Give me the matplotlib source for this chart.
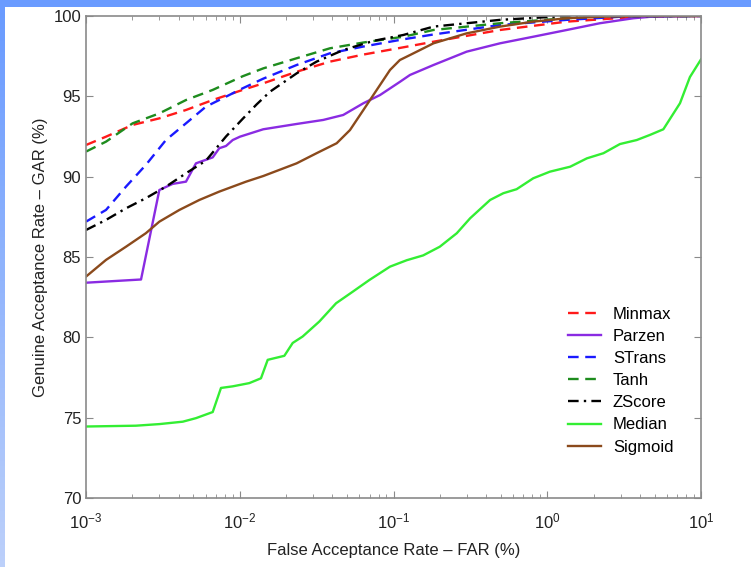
import numpy as np
import matplotlib
matplotlib.use("Agg")
import matplotlib.pyplot as plt
from matplotlib.patches import Rectangle
from matplotlib.ticker import LogLocator, NullFormatter

plt.rcParams['font.family'] = ['Liberation Sans', 'DejaVu Sans']
plt.rcParams['mathtext.fontset'] = 'custom'
plt.rcParams['mathtext.rm'] = 'Liberation Sans'
plt.rcParams['mathtext.default'] = 'regular'

# ROC curves, FAR (%) vs GAR (%)
minmax_far = [0.001, 0.00135, 0.00201, 0.0030, 0.00447, 0.00667, 0.01045, 0.01422, 0.02344,
              0.0386, 0.0637, 0.122, 0.182, 0.493, 1.34, 2.83, 4.66, 10]
minmax_gar = [91.97, 92.49, 93.22, 93.63, 94.15, 94.77, 95.4, 95.81, 96.53,
              97.16, 97.6, 98.09, 98.4, 99.13, 99.65, 99.86, 100, 100]

parzen_far = [0.001, 0.00228, 0.0030, 0.00366, 0.00447, 0.00519, 0.00667, 0.00736, 0.00814,
              0.0090, 0.01004, 0.01422, 0.02344, 0.0349, 0.0471, 0.0637, 0.0817, 0.110,
              0.128, 0.182, 0.299, 0.493, 0.811, 1.34, 2.20, 3.63, 4.66, 10]
parzen_gar = [83.4, 83.6, 89.17, 89.55, 89.69, 90.83, 91.2, 91.77, 91.91,
              92.28, 92.49, 92.95, 93.28, 93.53, 93.84, 94.57, 95.08, 95.9,
              96.33, 96.95, 97.78, 98.3, 98.71, 99.13, 99.55, 99.86, 99.95, 100]

strans_far = [0.001, 0.00135, 0.00182, 0.00245, 0.00331, 0.00447, 0.00603, 0.00814, 0.01045,
              0.01422, 0.02344, 0.0386, 0.0637, 0.116, 0.182, 0.493, 1.34, 3.63, 10]
strans_gar = [87.2, 87.93, 89.38, 90.73, 92.28, 93.32, 94.36, 94.98, 95.5,
              96.1, 96.95, 97.68, 98.1, 98.55, 98.85, 99.44, 99.76, 100, 100]

tanh_far = [0.001, 0.00135, 0.00201, 0.0030, 0.00447, 0.00667, 0.01045, 0.01422, 0.02344,
            0.0386, 0.0637, 0.116, 0.182, 0.493, 1.34, 2.20, 10]
tanh_gar = [91.56, 92.18, 93.32, 93.94, 94.77, 95.4, 96.25, 96.74, 97.37,
            97.99, 98.35, 98.71, 99.13, 99.55, 99.86, 100, 100]

zscore_far = [0.001, 0.00135, 0.00182, 0.00245, 0.00331, 0.00447, 0.00603, 0.00814, 0.01045,
              0.01288, 0.01574, 0.02344, 0.0316, 0.0471, 0.0740, 0.116, 0.182, 0.493, 1.34, 10]
zscore_gar = [86.68, 87.31, 88.03, 88.66, 89.38, 90.21, 91.0, 92.5, 93.6,
              94.5, 95.29, 96.43, 97.16, 97.88, 98.45, 98.82, 99.34, 99.76, 100, 100]

median_far = [0.001, 0.00211, 0.0030, 0.00426, 0.00519, 0.00667, 0.00755, 0.0090, 0.01153,
              0.01374, 0.0152, 0.0195, 0.0221, 0.02564, 0.0329, 0.0423, 0.0543, 0.0697,
              0.0949, 0.122, 0.156, 0.200, 0.258, 0.315, 0.425, 0.518, 0.632, 0.811,
              1.04, 1.41, 1.81, 2.32, 2.97, 3.82, 4.66, 5.69, 7.30, 8.47, 10]
median_gar = [74.45, 74.5, 74.6, 74.75, 74.97, 75.35, 76.85, 76.95, 77.15,
              77.45, 78.6, 78.85, 79.65, 80.05, 80.98, 82.12, 82.84, 83.57,
              84.4, 84.8, 85.1, 85.64, 86.48, 87.41, 88.55, 88.97, 89.22, 89.9,
              90.31, 90.62, 91.14, 91.46, 92.03, 92.28, 92.6, 92.95, 94.57, 96.2, 97.3]

sigmoid_far = [0.001, 0.00135, 0.00182, 0.00245, 0.0030, 0.00405, 0.00546, 0.00736, 0.0110,
               0.01422, 0.02344, 0.0316, 0.0427, 0.0521, 0.0637, 0.0778, 0.0949, 0.110,
               0.128, 0.182, 0.299, 0.493, 0.811, 1.34, 2.20, 3.63, 10]
sigmoid_gar = [83.78, 84.82, 85.64, 86.48, 87.2, 87.93, 88.55, 89.07, 89.69,
               90.04, 90.83, 91.46, 92.08, 92.9, 94.15, 95.4, 96.64, 97.26,
               97.57, 98.3, 98.92, 99.34, 99.65, 99.86, 99.95, 100, 100]

fig = plt.figure(figsize=(7.51, 5.67), dpi=100)
fig.patch.set_facecolor('white')

# blue slide frame along the top and left edges
fig.patches.append(Rectangle((0, 1 - 7 / 567), 1, 7 / 567, transform=fig.transFigure,
                             facecolor='#6a9bff', edgecolor='none', zorder=0))
grad_ax = fig.add_axes([0, 0, 5 / 751, 1 - 7 / 567])
grad_ax.imshow(np.linspace(0, 1, 100).reshape(-1, 1), aspect='auto',
               cmap=matplotlib.colors.LinearSegmentedColormap.from_list(
                   'edge', ['#6a9bff', '#bcd0fa']))
grad_ax.axis('off')

ax = fig.add_axes([86 / 751, 1 - 498 / 567, 615 / 751, 482 / 567])

lw = 1.7
dash = (0, (4.5, 2.8))
ax.plot(minmax_far, minmax_gar, color='#ff1a1a', ls=dash, lw=lw, label='Minmax')
ax.plot(parzen_far, parzen_gar, color='#8a2be2', ls='-', lw=lw, label='Parzen')
ax.plot(strans_far, strans_gar, color='#1a1aff', ls=dash, lw=lw, label='STrans')
ax.plot(tanh_far, tanh_gar, color='#1e8c1e', ls=dash, lw=lw, label='Tanh')
ax.plot(zscore_far, zscore_gar, color='black', ls=(0, (4.5, 2.2, 1, 2.2)), lw=lw, label='ZScore')
ax.plot(median_far, median_gar, color='#33ee33', ls='-', lw=lw, label='Median')
ax.plot(sigmoid_far, sigmoid_gar, color='#8b4a1c', ls='-', lw=lw, label='Sigmoid')

ax.set_xscale('log')
ax.set_xlim(1e-3, 10)
ax.set_ylim(70, 100)
ax.set_yticks([70, 75, 80, 85, 90, 95, 100])
ax.xaxis.set_major_locator(LogLocator(base=10, numticks=10))
ax.xaxis.set_minor_locator(LogLocator(base=10, subs=np.arange(2, 10), numticks=20))
ax.xaxis.set_minor_formatter(NullFormatter())

for s in ax.spines.values():
    s.set_color('#8a8a8a')
    s.set_linewidth(1.2)
ax.tick_params(which='both', direction='in', top=True, right=True, color='#8a8a8a',
               labelsize=12, labelcolor='#222222')
ax.tick_params(which='major', length=5)
ax.tick_params(which='minor', length=3)
ax.tick_params(axis='x', pad=10)

ax.set_xlabel('False Acceptance Rate \u2013 FAR (%)', fontsize=12, color='#222222', labelpad=8)
ax.set_ylabel('Genuine Acceptance Rate \u2013 GAR (%)', fontsize=12, color='#222222', labelpad=4)

ax.legend(loc='lower right', bbox_to_anchor=(0.955, 0.09), frameon=False, fontsize=12,
          handlelength=2.0, handletextpad=0.7, labelspacing=0.43, borderpad=0,
          borderaxespad=0)

fig.savefig('out.png', dpi=100)
